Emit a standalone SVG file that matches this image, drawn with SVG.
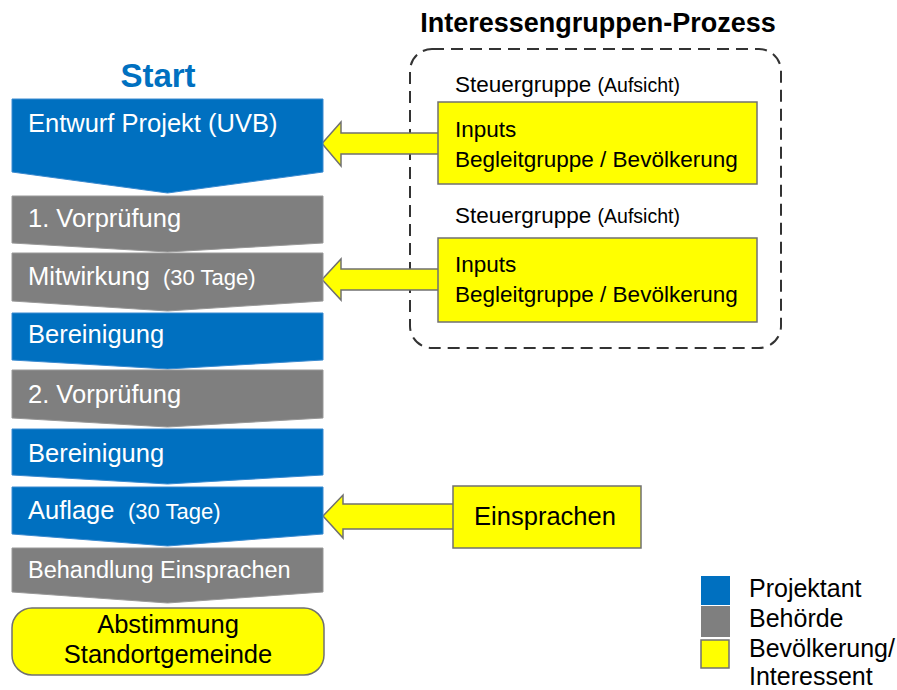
<svg xmlns="http://www.w3.org/2000/svg" width="897" height="690" viewBox="0 0 897 690">
<style>
text{font-family:"Liberation Sans",Arial,Helvetica,sans-serif}
.w{fill:#fff;font-size:25.5px}
.ws{fill:#fff;font-size:22px}
.k{fill:#000;font-size:22.5px}
.ks{fill:#000;font-size:19.5px}
.blue{fill:#0070C0;stroke:#3a8ad0;stroke-width:1}
.gray{fill:#7F7F7F;stroke:#999;stroke-width:1}
.yel{fill:#FFFF00;stroke:#707070;stroke-width:1.5}
.arr{fill:#FFFF00;stroke:#707070;stroke-width:1.5;stroke-linejoin:miter}
.lg{font-size:25px;fill:#000}
</style>
<rect width="897" height="690" fill="#fff"/>
<text x="158" y="87" text-anchor="middle" style="font-size:33px;font-weight:bold;fill:#0070C0">Start</text>
<text x="598" y="32" text-anchor="middle" style="font-size:27px;font-weight:bold;fill:#000">Interessengruppen-Prozess</text>
<g id="stakeholder-frame">
<rect x="410" y="49" width="371" height="299" rx="22" ry="22" fill="none" stroke="#333" stroke-width="2" stroke-dasharray="12 7"/>
</g>
<g id="connectors">
<polygon class="arr" points="322,143.5 341,122 341,133 440,133 440,154 341,154 341,166"/>
<polygon class="arr" points="322,279.5 341,259 341,269 440,269 440,290 341,290 341,300"/>
<polygon class="arr" points="323,516 343,495 343,504 455,504 455,529 343,529 343,538"/>
</g>
<g id="entwurf">
<polygon class="blue" points="12,99 323,99 323,172 167.5,193 12,172"/>
<text class="w" x="28" y="132">Entwurf Projekt (UVB)</text>
</g>
<g id="vorpruefung1">
<polygon class="gray" points="12,196 323,196 323,243 167.5,252 12,243"/>
<text class="w" x="28" y="227">1. Vorprüfung</text>
</g>
<g id="mitwirkung">
<polygon class="gray" points="12,253 323,253 323,301 167.5,311 12,301"/>
<text class="w" x="28" y="285">Mitwirkung</text>
<text class="ws" x="163" y="285">(30 Tage)</text>
</g>
<g id="bereinigung1">
<polygon class="blue" points="12,313 323,313 323,360 167.5,369 12,360"/>
<text class="w" x="28" y="343">Bereinigung</text>
</g>
<g id="vorpruefung2">
<polygon class="gray" points="12,370 323,370 323,418 167.5,427 12,418"/>
<text class="w" x="28" y="403">2. Vorprüfung</text>
</g>
<g id="bereinigung2">
<polygon class="blue" points="12,429 323,429 323,475 167.5,484 12,475"/>
<text class="w" x="28" y="462">Bereinigung</text>
</g>
<g id="auflage">
<polygon class="blue" points="12,487 323,487 323,534 167.5,546 12,534"/>
<text class="w" x="28" y="519">Auflage</text>
<text class="ws" x="128" y="519">(30 Tage)</text>
</g>
<g id="behandlung">
<polygon class="gray" points="12,548 323,548 323,592 167.5,603 12,592"/>
<text class="w" x="28" y="578" style="font-size:23.5px">Behandlung Einsprachen</text>
</g>
<g id="abstimmung">
<rect class="yel" x="12" y="608" width="312" height="67" rx="20" ry="20"/>
<text x="168" y="633" text-anchor="middle" style="font-size:25.5px;fill:#000">Abstimmung</text>
<text x="168" y="663" text-anchor="middle" style="font-size:25.5px;fill:#000">Standortgemeinde</text>
</g>
<g id="inputs1">
<text class="k" x="455" y="92">Steuergruppe <tspan class="ks">(Aufsicht)</tspan></text>
<rect class="yel" x="438" y="102" width="319" height="82"/>
<text class="k" x="455" y="137">Inputs</text>
<text class="k" x="455" y="167">Begleitgruppe / Bevölkerung</text>
</g>
<g id="inputs2">
<text class="k" x="455" y="223">Steuergruppe <tspan class="ks">(Aufsicht)</tspan></text>
<rect class="yel" x="438" y="238" width="319" height="84"/>
<text class="k" x="455" y="272">Inputs</text>
<text class="k" x="455" y="302">Begleitgruppe / Bevölkerung</text>
</g>
<g id="einsprachen">
<rect class="yel" x="453" y="486" width="188" height="62"/>
<text x="545" y="525" text-anchor="middle" style="font-size:25.5px;fill:#000">Einsprachen</text>
</g>
<g id="legend">
<rect x="701" y="576" width="29" height="29" fill="#0070C0"/>
<rect x="701" y="606" width="29" height="31" fill="#7F7F7F"/>
<rect x="701" y="640" width="28" height="28" fill="#FFFF00" stroke="#707070" stroke-width="1.5"/>
<text class="lg" x="749" y="597">Projektant</text>
<text class="lg" x="749" y="627">Behörde</text>
<text class="lg" x="749" y="657">Bevölkerung/</text>
<text class="lg" x="749" y="685">Interessent</text>
</g>
</svg>
